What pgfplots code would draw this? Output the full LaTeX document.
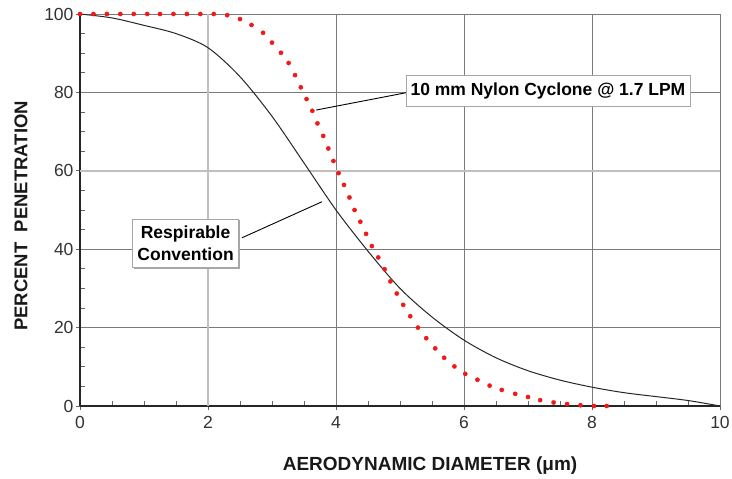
\documentclass[border=0pt]{standalone}
\usepackage{pgfplots}
\pgfplotsset{compat=1.18}
\usetikzlibrary{shadows}
\usepackage{fontspec}
\setmainfont{Liberation Sans}

\definecolor{gridgray}{HTML}{7A7A7A}
\definecolor{dotred}{HTML}{F01818}

\begin{document}
\begin{tikzpicture}
\useasboundingbox (-80pt,-73pt) rectangle (652pt,406pt);
\begin{axis}[%
width=640pt,
height=392pt,
scale only axis,
xmin=0, xmax=10,
ymin=0, ymax=100,
xtick={0,2,...,10},
ytick={0,20,...,100},
minor x tick num=3,
minor y tick num=3,
axis lines*=left,
axis line style={black!85, line width=1.4pt},
xmajorgrids, ymajorgrids,
major grid style={gridgray, line width=0.9pt},
tick align=inside,
major tick length=-4pt,
minor tick length=5pt,
tick style={black!60, line width=0.7pt},
/pgf/number format/assume math mode=true,
tick label style={font=\fontsize{17.5}{19}\selectfont, text=black!80},
xticklabel style={yshift=-7pt},
yticklabel style={xshift=-3pt},
every axis x label/.style={at={(axis description cs:0.547,0)}, anchor=center, yshift=-60pt},
every axis y label/.style={at={(axis description cs:-0.092,0.485)}, rotate=90, anchor=center},
label style={text=black!90},
xlabel style={font=\bfseries\fontsize{19}{21}\selectfont},
ylabel style={font=\bfseries\fontsize{18.5}{21}\selectfont},
xlabel={AERODYNAMIC DIAMETER (μm)},
ylabel={PERCENT\ \ PENETRATION},
clip=false,
]
% lighter grid lines as in the reference
\draw[black!25, line width=2.2pt] (axis cs:2,0) -- (axis cs:2,100);
\draw[black!25, line width=2.2pt] (axis cs:0,60) -- (axis cs:10,60);

% Respirable convention
\addplot[black!85, line width=1pt, smooth] coordinates{
  (0,100) (0.5,99.0) (1,97.1) (1.5,95.0) (2,91.4) (2.5,84.0) (3,73.9)
  (3.5,62.0) (4,50.0) (4.5,39.5) (5,30.0) (5.5,22.7) (6,16.8) (6.5,12.3)
  (7,9.0) (7.5,6.6) (8,4.8) (8.5,3.4) (9,2.4) (9.5,1.4) (10,0)
};

% 10 mm nylon cyclone @ 1.7 LPM
\addplot[only marks, mark=*, mark size=2.1pt, dotred, mark options={draw=none, fill=dotred}] coordinates{
  (0,100) (0.21,100) (0.42,100) (0.63,100) (0.84,100) (1.05,100)
  (1.25,100) (1.46,100) (1.67,100) (1.88,100) (2.09,100)
  (2.30,99.7) (2.50,98.7) (2.68,97.2) (2.86,95.2) (3.00,92.7)
  (3.14,90.1) (3.26,87.5) (3.36,84.4) (3.45,81.3) (3.54,78.3)
  (3.63,75.3) (3.71,72.1) (3.80,68.9) (3.88,65.7) (3.96,62.5)
  (4.04,59.4) (4.125,56.4) (4.21,53.2) (4.29,50.0) (4.38,47.0)
  (4.47,43.9) (4.56,40.8) (4.66,37.9) (4.76,34.9) (4.85,31.8)
  (4.95,28.7) (5.05,25.8) (5.16,22.9) (5.28,20.0) (5.41,17.3)
  (5.55,14.7) (5.69,12.3) (5.85,10.1) (6.02,8.2) (6.21,6.7)
  (6.40,5.2) (6.59,4.1) (6.80,3.1) (7.00,2.3) (7.19,1.5)
  (7.40,0.9) (7.61,0.5) (7.82,0.2) (8.03,0) (8.23,0)
};

\draw[black, line width=0.9pt] (axis cs:3.69,75.5) -- (axis cs:5.09,79.9);
\draw[black, line width=0.9pt] (axis cs:2.53,42.9) -- (axis cs:3.78,52.1);

\node[draw=gray!70, fill=white, line width=0.6pt, inner xsep=4.5pt, inner ysep=7pt,
      drop shadow={shadow xshift=1.5pt, shadow yshift=-1.5pt, fill=gray!70, opacity=1},
      anchor=west, font=\bfseries\fontsize{17.5}{19}\selectfont]
  at (axis cs:5.09,80.4) {10 mm Nylon Cyclone @ 1.7 LPM};
\node[draw=gray!70, fill=white, line width=0.6pt, inner xsep=5pt, inner ysep=7pt,
      drop shadow={shadow xshift=1.5pt, shadow yshift=-1.5pt, fill=gray!70, opacity=1},
      align=center, font=\bfseries\fontsize{17.5}{22}\selectfont]
  at (axis cs:1.65,41.5) {Respirable\\Convention};
\end{axis}
\end{tikzpicture}
\end{document}
